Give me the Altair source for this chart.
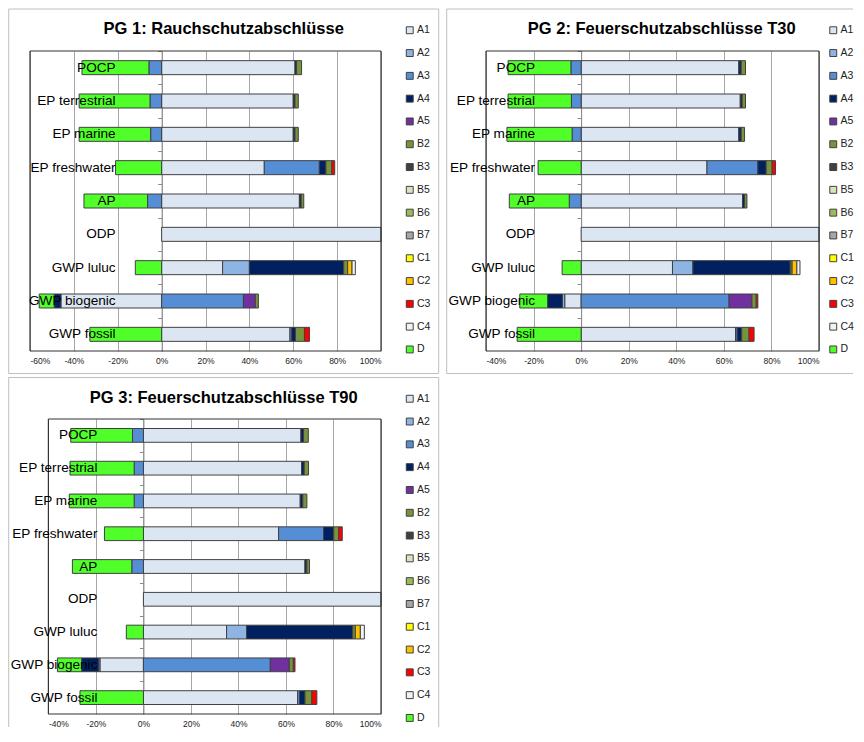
import altair as alt
import pandas as pd

FONT = "Liberation Sans, Arial, sans-serif"

CATS = ["POCP", "EP terrestrial", "EP marine", "EP freshwater", "AP", "ODP",
        "GWP luluc", "GWP biogenic", "GWP fossil"]
SERIES = ["A1", "A2", "A3", "A4", "A5", "B2", "B3", "B5", "B6", "B7",
          "C1", "C2", "C3", "C4", "D"]
COLORS = ["#DCE6F2", "#8EB4E3", "#558ED5", "#002060", "#7030A0", "#77933C",
          "#404040", "#D7E4BD", "#9BBB59", "#A6A6A6", "#FFFF00", "#FFC000",
          "#FF0000", "#F2F2F2", "#50FF2A"]

TITLE1 = "PG 1: Rauchschutzabschlüsse"
TITLE2 = "PG 2: Feuerschutzabschlüsse T30"
TITLE3 = "PG 3: Feuerschutzabschlüsse T90"

# values in percent, category order as CATS
PG1_A1 = [60.8, 60.0, 60.0, 46.8, 62.8, 100.0, 27.8, -45.9, 58.5]
PG1_A2 = [0, 0, 0, 0, 0, 0, 12.2, 0, 0]
PG1_A3 = [-5.8, -5.3, -5.0, 25.1, -6.4, 0, 0, 37.3, 0.8]
PG1_A4 = [0.7, 0.8, 0.8, 3.0, 0.8, 0, 43.0, -3.1, 1.7]
PG1_A5 = [0, 0, 0, 0, 0, 0, 0, 5.4, 0]
PG1_B2 = [2.3, 1.5, 1.5, 2.7, 1.2, 0, 1.8, 1.4, 4.1]
PG1_C2 = [0, 0, 0, 0, 0, 0, 2.0, 0, 0]
PG1_C3 = [0, 0, 0, 1.3, 0, 0, 0, 0, 2.3]
PG1_C4 = [0, 0, 0, 0, 0, 0, 1.5, 0, 0]
PG1_D = [-30.5, -32.3, -32.6, -21.0, -29.0, 0, -12.0, -6.8, -32.7]

PG2_A1 = [66.3, 66.9, 66.3, 52.9, 67.9, 100.0, 38.4, -6.9, 64.9]
PG2_A2 = [0, 0, 0, 0, 0, 0, 8.6, -1.0, 0]
PG2_A3 = [-4.3, -4.1, -3.8, 21.4, -5.0, 0, 0, 62.2, 0.7]
PG2_A4 = [1.0, 0.8, 1.0, 3.5, 0.8, 0, 40.9, -6.2, 1.9]
PG2_A5 = [0, 0, 0, 0, 0, 0, 0, 9.6, 0]
PG2_B2 = [1.8, 1.4, 1.4, 2.5, 1.0, 0, 0.8, 1.8, 3.1]
PG2_C2 = [0, 0, 0, 0, 0, 0, 2.0, 0, 0]
PG2_C3 = [0, 0, 0, 1.4, 0, 0, 0, 0.7, 2.1]
PG2_C4 = [0, 0, 0, 0, 0, 0, 1.3, 0, 0]
PG2_D = [-26.4, -26.6, -27.4, -18.1, -25.2, 0, -8.0, -11.7, -26.9]

PG3_A1 = [66.3, 66.6, 66.0, 56.9, 68.0, 100.0, 35.0, -18.3, 64.9]
PG3_A2 = [0, 0, 0, 0, 0, 0, 8.4, -0.5, 0]
PG3_A3 = [-4.6, -3.9, -3.9, 18.9, -4.9, 0, 0, 53.4, 0.8]
PG3_A4 = [1.1, 1.1, 1.1, 4.3, 0.8, 0, 44.7, -7.2, 2.3]
PG3_A5 = [0, 0, 0, 0, 0, 0, 0, 8.0, 0]
PG3_B2 = [2.0, 1.8, 1.7, 2.1, 1.1, 0, 1.1, 1.7, 2.9]
PG3_C2 = [0, 0, 0, 0, 0, 0, 2.1, 0, 0]
PG3_C3 = [0, 0, 0, 1.5, 0, 0, 0, 0.7, 2.1]
PG3_C4 = [0, 0, 0, 0, 0, 0, 1.7, 0, 0]
PG3_D = [-26.0, -27.0, -27.3, -16.4, -25.0, 0, -7.2, -10.2, -26.7]


def table(series_map):
    rows = []
    for s, vals in series_map.items():
        for c, v in zip(CATS, vals):
            if v != 0:
                rows.append({"cat": c, "series": s, "value": v,
                             "idx": SERIES.index(s)})
    return pd.DataFrame(rows)


ONE = pd.DataFrame({"f": [0]})


def rule(x1, x2, y1, y2, color="#BFBFBF", sw=1.0):
    return alt.Chart(ONE).mark_rule(color=color, strokeWidth=sw).encode(
        x=alt.value(x1), x2=alt.value(x2), y=alt.value(y1), y2=alt.value(y2))


def panel(title, df, xmin, r0, r1, height, frame, sides, legend_x):
    fx1, fx2, fy1, fy2 = frame
    step = height / len(CATS)
    xs = alt.Scale(domain=[xmin, 100], range=[r0, r1], nice=False,
                   zero=False)
    ys = alt.Scale(domain=CATS, paddingInner=0.58, paddingOuter=0.29)
    xaxis = alt.Axis(values=list(range(xmin, 101, 20)),
                     labelExpr="datum.value + '%'", grid=True, ticks=False,
                     tickSize=0, domain=False, labelFontSize=8.5,
                     labelPadding=5, labelColor="#222222", title=None,
                     labelFont=FONT, gridColor="#A6A6A6", gridWidth=1)
    x0 = r0 + (0 - xmin) / (100 - xmin) * (r1 - r0)
    yaxis = alt.Axis(labels=False, title=None, domain=True,
                     domainColor="#8C8C8C", ticks=True, tickColor="#8C8C8C",
                     tickSize=4, grid=False, offset=-x0,
                     bandPosition=0, tickOffset=-0.29 * step)
    layers = []
    if "top" in sides:
        layers.append(rule(fx1, fx2, fy1, fy1))
    if "bottom" in sides:
        layers.append(rule(fx1, fx2, fy2, fy2))
    if "left" in sides:
        layers.append(rule(fx1, fx1, fy1, fy2))
    if "right" in sides:
        layers.append(rule(fx2, fx2, fy1, fy2))
    bars = alt.Chart(df).mark_bar(stroke="#404040", strokeWidth=1).encode(
        x=alt.X("value:Q", scale=xs, stack="zero", axis=xaxis),
        y=alt.Y("cat:N", scale=ys, sort=CATS, axis=yaxis),
        color=alt.Color("series:N",
                        scale=alt.Scale(domain=SERIES, range=COLORS),
                        legend=alt.Legend(
                            orient="none", legendX=legend_x,
                            legendY=fy1 + 16,
                            title=None, symbolType="square", symbolSize=48,
                            symbolStrokeColor="#404040", symbolStrokeWidth=1,
                            labelFontSize=10.5, labelFont=FONT,
                            labelColor="#222222", rowPadding=10.8,
                            labelOffset=2, padding=0)),
        order=alt.Order("idx:Q", sort="ascending"),
    )
    # plot border drawn at the scale ends
    border = [
        alt.Chart(ONE).mark_rule(color="#333333", strokeWidth=1.2).encode(
            x=alt.datum(xmin, scale=xs), x2=alt.datum(100),
            y=alt.value(0)),
        alt.Chart(ONE).mark_rule(color="#333333", strokeWidth=1.2).encode(
            x=alt.datum(xmin, scale=xs), x2=alt.datum(100),
            y=alt.value(height)),
        alt.Chart(ONE).mark_rule(color="#333333", strokeWidth=1.2).encode(
            x=alt.datum(xmin, scale=xs), y=alt.value(0),
            y2=alt.value(height)),
        alt.Chart(ONE).mark_rule(color="#333333", strokeWidth=1.2).encode(
            x=alt.datum(100, scale=xs), y=alt.value(0),
            y2=alt.value(height)),
    ]
    labels = alt.Chart(pd.DataFrame({"cat": CATS})).mark_text(
        align="right", baseline="middle", dx=-46, fontSize=13.6, font=FONT,
        color="black"
    ).encode(x=alt.datum(0, scale=xs),
             y=alt.Y("cat:N", scale=ys, sort=CATS, axis=yaxis),
             text="cat:N")
    ttl = alt.Chart(pd.DataFrame({"t": [title]})).mark_text(
        align="center", baseline="alphabetic", fontSize=16.5,
        fontWeight="bold", font=FONT, color="black"
    ).encode(x=alt.value(fx1 + 215), y=alt.value(fy1 + 25.3), text="t:N")
    layers += [bars] + border + [labels, ttl]
    return alt.layer(*layers).properties(width=r1, height=height)


df1 = table({"A1": PG1_A1, "A2": PG1_A2, "A3": PG1_A3, "A4": PG1_A4,
             "A5": PG1_A5, "B2": PG1_B2, "C2": PG1_C2, "C3": PG1_C3,
             "C4": PG1_C4, "D": PG1_D})
df2 = table({"A1": PG2_A1, "A2": PG2_A2, "A3": PG2_A3, "A4": PG2_A4,
             "A5": PG2_A5, "B2": PG2_B2, "C2": PG2_C2, "C3": PG2_C3,
             "C4": PG2_C4, "D": PG2_D})
df3 = table({"A1": PG3_A1, "A2": PG3_A2, "A3": PG3_A3, "A4": PG3_A4,
             "A5": PG3_A5, "B2": PG3_B2, "C2": PG3_C2, "C3": PG3_C3,
             "C4": PG3_C4, "D": PG3_D})

H1 = 300
H3 = 295
p1 = panel(TITLE1, df1, -60, 0, 351, H1, (-21.3, 408.7, -42, H1 + 22.5),
           ["top", "bottom", "left", "right"], 374.5)
p2 = panel(TITLE2, df2, -40, 0, 333, H1, (-39.3, 367, -42, H1 + 22.5),
           ["top", "bottom", "left"], 342)
p3 = panel(TITLE3, df3, -40, 18.4, 351, H3, (-21.3, 408.7, -41.5, H3 + 13),
           ["top", "left", "right"], 374.5)

top = alt.hconcat(p1, p2, spacing=6).resolve_scale(
    x="independent", y="independent").resolve_legend(color="independent")
chart = alt.vconcat(top, p3, spacing=3).resolve_scale(
    x="independent", y="independent").resolve_legend(
    color="independent").properties(padding=0).configure_view(
    strokeWidth=0)

chart.save("out.html", embed_options={"renderer": "svg", "actions": False})
